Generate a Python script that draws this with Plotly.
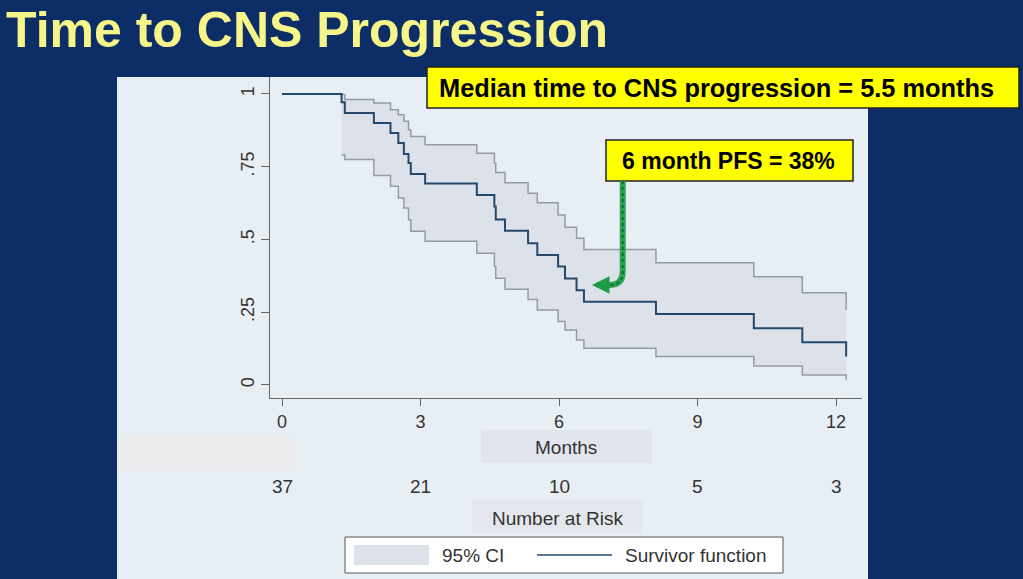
import plotly.graph_objects as go

# Kaplan-Meier estimate (months, survival)
times = [0, 1.29, 1.36, 1.99, 2.35, 2.52, 2.64, 2.74, 2.79, 3.10, 4.22, 4.60,
         4.63, 4.83, 5.33, 5.53, 5.98, 6.13, 6.38, 6.54, 8.10, 10.22, 11.27, 12.22]
survival = [1.0, 0.972, 0.935, 0.900, 0.866, 0.832, 0.794, 0.763, 0.725, 0.692,
            0.653, 0.613, 0.569, 0.530, 0.487, 0.447, 0.407, 0.366, 0.326, 0.286,
            0.244, 0.195, 0.147, 0.098]

# 95% CI starts at the first event
ci_times = times[1:]
ci_upper = [0.998, 0.981, 0.969, 0.946, 0.929, 0.906, 0.877, 0.854, 0.826, 0.796,
            0.762, 0.730, 0.695, 0.659, 0.626, 0.584, 0.542, 0.504, 0.466, 0.420,
            0.372, 0.317, 0.258]
ci_lower = [0.790, 0.775, 0.720, 0.683, 0.643, 0.608, 0.568, 0.528, 0.494, 0.453,
            0.407, 0.367, 0.329, 0.294, 0.258, 0.218, 0.189, 0.155, 0.126, 0.098,
            0.065, 0.034, 0.017]

x_ticks = [0, 3, 6, 9, 12]
y_ticks = [0, 0.25, 0.5, 0.75, 1]
y_ticktext = ["0", ".25", ".5", ".75", "1"]

risk_times = [0, 3, 6, 9, 12]
risk_counts = [37, 21, 10, 5, 3]

W, H = 1023, 579
NAVY = "#0c2d66"
PANEL = "#e8eff4"
CI_FILL = "#dde2ea"
CI_LINE = "#959ba4"
KM_LINE = "#24496f"
TXT = "#333333"
FONT = "Liberation Sans, Arial, sans-serif"


def fx(px):
    return px / W


def fy(py):
    return 1 - py / H


fig = go.Figure()
fig.add_scatter(x=ci_times, y=ci_upper, mode="lines", line_shape="hv",
                line=dict(color=CI_LINE, width=1.5), showlegend=False, hoverinfo="skip")
fig.add_scatter(x=ci_times, y=ci_lower, mode="lines", line_shape="hv",
                fill="tonexty", fillcolor=CI_FILL,
                line=dict(color=CI_LINE, width=1.5), showlegend=False, hoverinfo="skip")
fig.add_scatter(x=times, y=survival, mode="lines", line_shape="hv",
                line=dict(color=KM_LINE, width=2), showlegend=False)

shapes = [
    # stata graph region
    dict(type="rect", xref="paper", yref="paper", x0=fx(117), x1=fx(868),
         y0=fy(579), y1=fy(77), fillcolor=PANEL, line_width=0, layer="below"),
    # leftover grey block
    dict(type="rect", xref="paper", yref="paper", x0=fx(120), x1=fx(292),
         y0=fy(471), y1=fy(437), fillcolor="#ececee", line_width=0),
    # axis title boxes
    dict(type="rect", xref="paper", yref="paper", x0=fx(481), x1=fx(652),
         y0=fy(463), y1=fy(430), fillcolor="#e2e5ee", line_width=0),
    dict(type="rect", xref="paper", yref="paper", x0=fx(472), x1=fx(643),
         y0=fy(534), y1=fy(500), fillcolor="#e4e7ee", line_width=0),
    # legend
    dict(type="rect", xref="paper", yref="paper", x0=fx(345), x1=fx(783),
         y0=fy(573), y1=fy(537), fillcolor="white", line=dict(color="#555555", width=1)),
    dict(type="rect", xref="paper", yref="paper", x0=fx(354), x1=fx(429),
         y0=fy(565), y1=fy(545), fillcolor=CI_FILL, line_width=0),
    dict(type="line", xref="paper", yref="paper", x0=fx(537), x1=fx(612),
         y0=fy(555), y1=fy(555), line=dict(color=KM_LINE, width=1.5)),
    # callout boxes
    dict(type="rect", xref="paper", yref="paper", x0=fx(427), x1=fx(1019),
         y0=fy(108), y1=fy(67), fillcolor="#ffff00", line=dict(color="#222222", width=1.5)),
    dict(type="rect", xref="paper", yref="paper", x0=fx(606), x1=fx(853),
         y0=fy(181), y1=fy(140), fillcolor="#ffff00", line=dict(color="#222222", width=1.5)),
]

# green bent arrow from the PFS box down to the curve
arrow_path = (f"M {fx(622.7)} {fy(181)} L {fx(622.7)} {fy(272)} "
              f"Q {fx(622.7)} {fy(285)} {fx(609)} {fy(285)}")
shapes.append(dict(type="path", xref="paper", yref="paper", path=arrow_path,
                   line=dict(color="#2aa652", width=6)))
shapes.append(dict(type="path", xref="paper", yref="paper", path=arrow_path,
                   line=dict(color="#0e6b2e", width=2, dash="dot")))

annotations = [
    dict(text="<b>Time to CNS Progression</b>", x=fx(4), y=1.0, xanchor="left",
         yanchor="top", font=dict(size=50, color="#f5f58a", family=FONT)),
    dict(text="<b>Median time to CNS progression = 5.5 months</b>", x=fx(716), y=fy(88),
         font=dict(size=25.4, color="black", family=FONT)),
    dict(text="<b>6 month PFS = 38%</b>", x=fx(728.5), y=fy(161),
         font=dict(size=23, color="black", family=FONT)),
    dict(text="", x=fx(592), y=fy(285), ax=20, ay=0, showarrow=True, arrowhead=2,
         arrowsize=0.7, arrowwidth=5, arrowcolor="#1f9a48"),
    dict(text="Months", x=fx(566), y=fy(447), font=dict(size=19, color=TXT, family=FONT)),
    dict(text="Number at Risk", x=fx(557), y=fy(518), font=dict(size=19, color=TXT, family=FONT)),
    dict(text="95% CI", x=fx(440), y=fy(555), xanchor="left",
         font=dict(size=19, color=TXT, family=FONT)),
    dict(text="Survivor function", x=fx(623), y=fy(555), xanchor="left",
         font=dict(size=19, color=TXT, family=FONT)),
]
for t, n in zip(risk_times, risk_counts):
    annotations.append(dict(text=str(n), x=t, xref="x", y=fy(486), yref="paper",
                            font=dict(size=19, color=TXT, family=FONT)))
for a in annotations:
    a.setdefault("xref", "paper")
    a.setdefault("yref", "paper")
    a.setdefault("xanchor", "center")
    a.setdefault("yanchor", "middle")
    a.setdefault("showarrow", False)

fig.update_layout(
    width=W, height=H,
    margin=dict(l=0, r=0, t=0, b=0),
    paper_bgcolor=NAVY,
    plot_bgcolor="white",
    showlegend=False,
    hovermode=False,
    shapes=shapes,
    annotations=annotations,
    xaxis=dict(domain=[fx(270), fx(862)], range=[-0.26, 12.563],
               tickvals=x_ticks, ticks="outside", ticklen=7, tickcolor="#666666",
               showline=True, linecolor="#666666", linewidth=1, showgrid=False,
               zeroline=False, tickfont=dict(size=18, color=TXT, family=FONT)),
    yaxis=dict(domain=[fy(398), fy(77)], range=[-0.0447, 1.0584],
               tickvals=y_ticks, ticktext=y_ticktext, tickangle=-90,
               ticks="outside", ticklen=8, tickcolor="#666666",
               showline=True, linecolor="#666666", linewidth=1,
               showgrid=True, gridcolor="#edf2f5", gridwidth=1,
               zeroline=False, tickfont=dict(size=18, color=TXT, family=FONT)),
)

fig.write_html("out.html", config={"displayModeBar": False},
               post_script="document.body.style.margin='0';")
